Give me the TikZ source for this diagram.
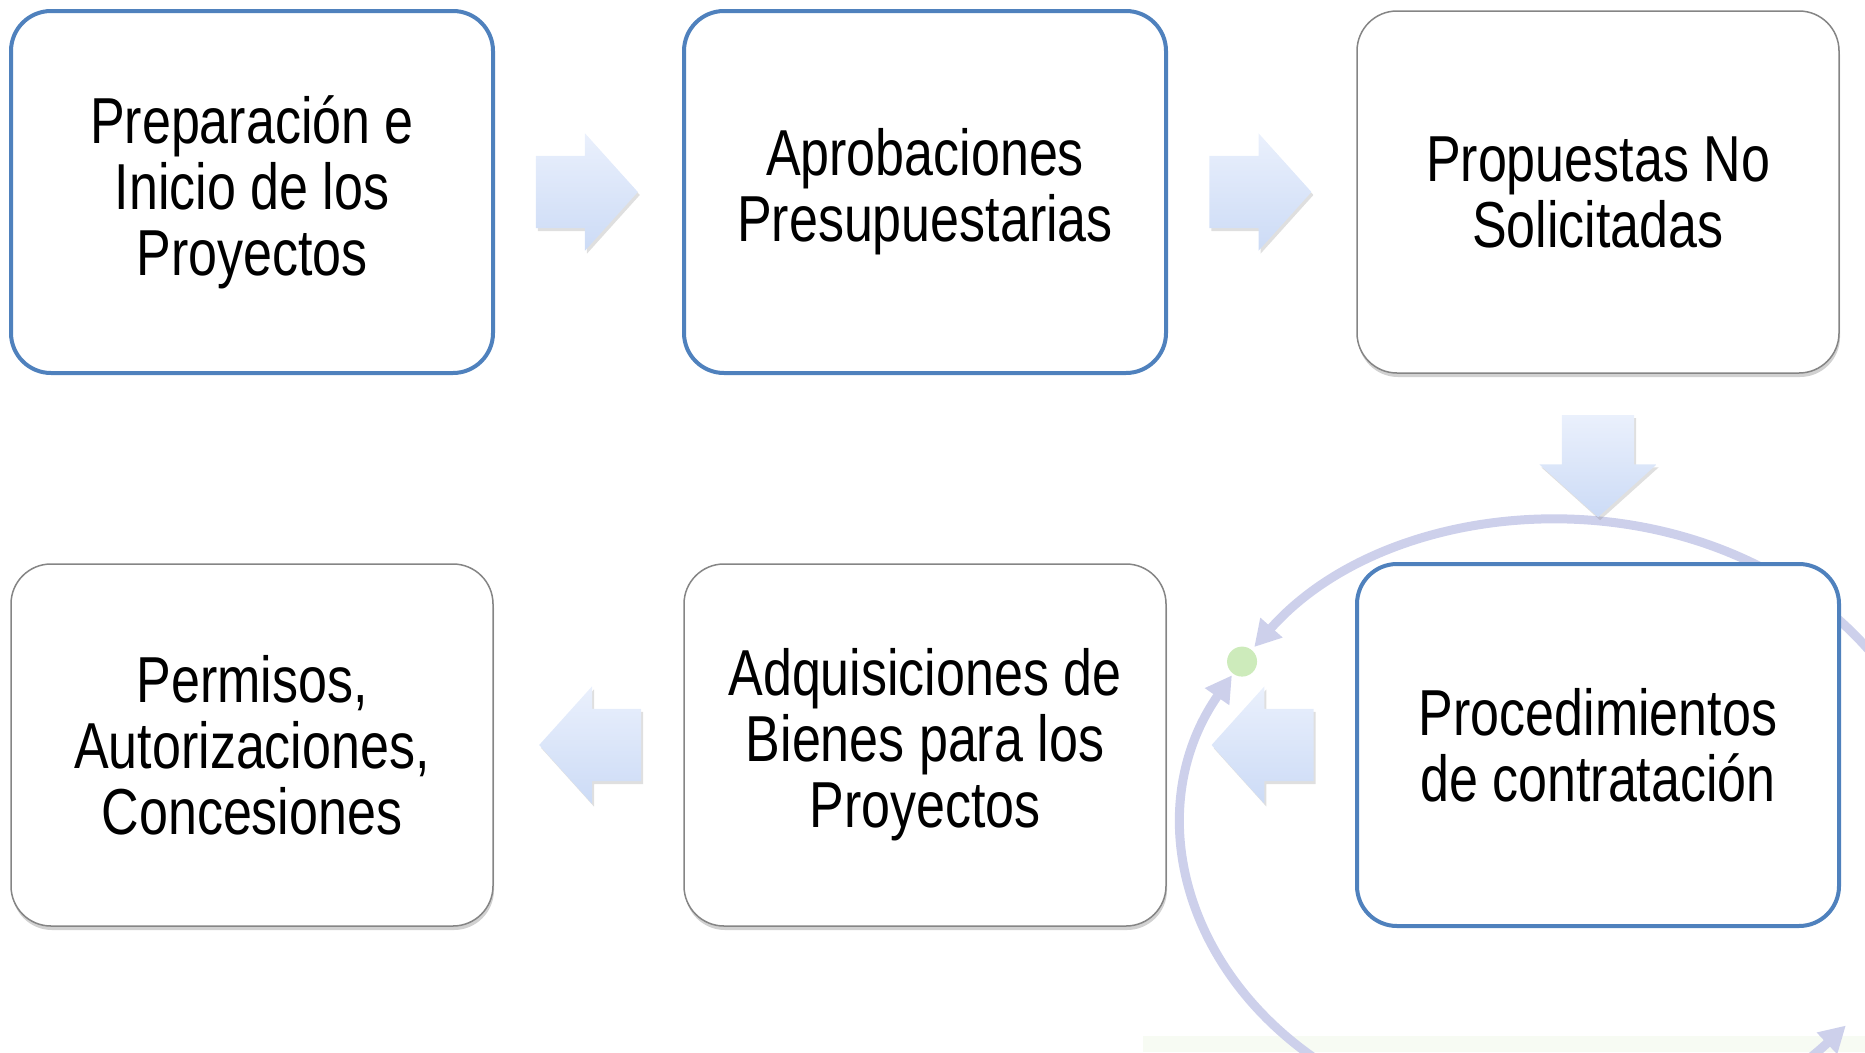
\documentclass[tikz,border=0pt]{standalone}
\usepackage{fontspec}
\newfontfamily\stagefont{Liberation Sans}[FakeStretch=0.8]
\usepackage{tikz}
\usetikzlibrary{shapes.arrows,shadows,arrows.meta}

\definecolor{boxblue}{HTML}{4F81BD}
\definecolor{boxgray}{HTML}{858585}
\definecolor{flowtop}{HTML}{EAF0FC}
\definecolor{flowbot}{HTML}{CCDBF6}
\definecolor{ringcol}{HTML}{CDD0EB}
\definecolor{dotgreen}{HTML}{CDEBBB}
\definecolor{bandgreen}{HTML}{F7FBF3}

\begin{document}
\begin{tikzpicture}[x=1pt,y=-1pt,node distance=673pt,>={Triangle[width=28pt,length=26pt]}]
        \tikzstyle{stage}=[rectangle,rounded corners=40pt,fill=white,align=center,inner sep=0pt,
            minimum width=482pt,minimum height=362pt,font=\stagefont\fontsize{65}{66}\selectfont]
        \tikzstyle{stageblue}=[stage,draw=boxblue,line width=4pt]
        \tikzstyle{stagegray}=[stage,draw=boxgray,line width=1.5pt,
            drop shadow={shadow xshift=1pt,shadow yshift=-4pt,opacity=.3,fill=black!60}]
        \tikzstyle{flow}=[single arrow,inner xsep=0pt,inner ysep=36pt,minimum height=102pt,
            single arrow head extend=22.5pt,single arrow tip angle=96,top color=flowtop,bottom color=flowbot,
            drop shadow={shadow xshift=2pt,shadow yshift=-3pt,opacity=.25,fill=black!50}]
        \tikzstyle{flowright}=[flow,xshift=-18pt]
        \tikzstyle{flowleft}=[flow,shape border rotate=180,xshift=18pt]
        \tikzstyle{flowdown}=[flow,inner xsep=36pt,inner ysep=0pt,shape border rotate=270,yshift=18pt]
        \tikzstyle{ringline}=[draw=ringcol,line width=9pt]
        \useasboundingbox (0,0) rectangle (1865,1052);
        % background cycle
        \begin{scope}
        \clip (0,0) rectangle (1865,1052);
        \fill[bandgreen] (1143,1036) rectangle (1865,1052);
        \coordinate (ringc) at (1560,826);
        \draw[ringline,<->] (ringc) ++(40.7:377 and 306) arc[start angle=40.7,end angle=209.5,x radius=377,y radius=306];
        \draw[ringline,<->] (ringc) ++(215.8:377 and 306) arc[start angle=215.8,end angle=394,x radius=377,y radius=306];
        \fill[dotgreen] (ringc) ++(212.5:377 and 306) circle[radius=15];
        \end{scope}
        % stages
        \node[stageblue] (prep) at (252,192) {Preparación e\\Inicio de los\\Proyectos};
        \node[stageblue,right of=prep] (aprob) {Aprobaciones\\Presupuestarias};
        \node[stagegray,right of=aprob] (prop) {Propuestas No\\Solicitadas};
        \node[stageblue,below of=prop,node distance=553pt] (proc) {Procedimientos\\de contratación};
        \node[stagegray,left of=proc] (adq) {Adquisiciones de\\Bienes para los\\Proyectos};
        \node[stagegray,left of=adq] (perm) {Permisos,\\Autorizaciones,\\Concesiones};
        % block arrows
        \path (prep) -- node[flowright] (f1) {} (aprob);
        \path (aprob) -- node[flowright] (f2) {} (prop);
        \path (prop) -- node[flowdown] (f3) {} (proc);
        \path (proc) -- node[flowleft] (f4) {} (adq);
        \path (adq) -- node[flowleft] (f5) {} (perm);
\end{tikzpicture}
\end{document}
